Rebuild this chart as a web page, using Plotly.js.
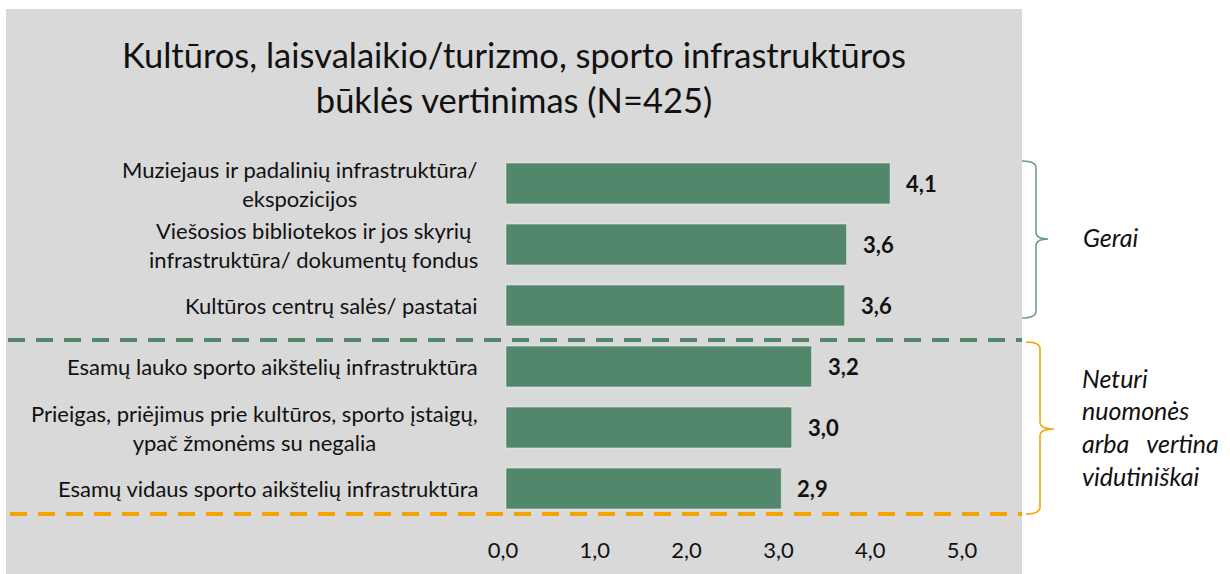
<!DOCTYPE html>
<html>
<head>
<meta charset="utf-8">
<script src="https://cdn.plot.ly/plotly-3.0.1.min.js"></script>
<style>html,body{margin:0;padding:0;background:#fff;}#chart{width:1230px;height:574px;}</style>
</head>
<body>
<div id="chart"></div>
<script>
// ---- data ----
const categories = [
  'Muziejaus ir padalinių infrastruktūra/<br>ekspozicijos',
  'Viešosios bibliotekos ir jos skyrių<br>infrastruktūra/ dokumentų fondus',
  'Kultūros centrų salės/ pastatai',
  'Esamų lauko sporto aikštelių infrastruktūra',
  'Prieigas, priėjimus prie kultūros, sporto įstaigų,<br>ypač žmonėms su negalia',
  'Esamų vidaus sporto aikštelių infrastruktūra'
];
const values = [4.06, 3.60, 3.58, 3.23, 3.02, 2.91];
const tickValues = [0, 1, 2, 3, 4, 5];
const tickLabels = ['0,0', '1,0', '2,0', '3,0', '4,0', '5,0'];
const groupGood = 'Gerai';
const groupMid = ['Neturi', 'nuomonės', 'arba\u00a0\u00a0\u00a0vertina', 'vidutiniškai'];
const titleText = 'Kultūros, laisvalaikio/turizmo, sporto infrastruktūros<br>būklės vertinimas (N=425)';

// ---- geometry helpers (pixel -> paper) ----
const W = 1230, H = 574;
const L = 500, R = 1022, T = 153, B = 519;
const X0 = 506;           // pixel of value 0 for bars
const PXU = 94.6;         // pixels per unit for bars
const X = px => (px - L) / (R - L);
const Y = py => 1 - (py - T) / (B - T);

const GREEN = '#53876B';
const ORANGE = '#F5A300';
const FONT = 'Lato, "Open Sans", sans-serif';

function brace(x0, xb, xp, ytop, ymid, ybot, r) {
  const p = (x, y) => X(x).toFixed(5) + ',' + Y(y).toFixed(5);
  return 'M ' + p(x0, ytop) +
    ' Q ' + p(xb, ytop) + ' ' + p(xb, ytop + r) +
    ' L ' + p(xb, ymid - r) +
    ' Q ' + p(xb, ymid) + ' ' + p(xp, ymid) +
    ' Q ' + p(xb, ymid) + ' ' + p(xb, ymid + r) +
    ' L ' + p(xb, ybot - r) +
    ' Q ' + p(xb, ybot) + ' ' + p(x0, ybot);
}

const fmt = v => v.toFixed(1).replace('.', ',');

const traces = [
  {
    type: 'bar', orientation: 'h',
    x: values, y: categories,
    marker: { color: GREEN, line: { color: 'rgba(255,255,255,0.45)', width: 1 } },
    hoverinfo: 'skip', showlegend: false
  },
  {
    type: 'scatter', mode: 'markers', x: [], y: [], xaxis: 'x2', yaxis: 'y',
    hoverinfo: 'skip', showlegend: false
  }
];

const annotations = [];
categories.forEach((c, i) => {
  annotations.push({
    x: X(480), xref: 'paper', xanchor: 'right',
    y: c, yref: 'y', yanchor: 'middle',
    text: c, align: 'center', showarrow: false,
    font: { family: FONT, size: 22, color: '#111' }
  });
  annotations.push({
    x: values[i], xref: 'x', xanchor: 'left', xshift: 14,
    y: c, yref: 'y', yanchor: 'middle',
    text: '<b>' + fmt(values[i]) + '</b>', showarrow: false,
    font: { family: FONT, size: 22, color: '#111' }
  });
});
annotations.push({
  x: X(1081), xref: 'paper', xanchor: 'left', y: Y(237), yref: 'paper', yanchor: 'middle',
  text: '<i>' + groupGood + '</i>', showarrow: false,
  font: { family: FONT, size: 25, color: '#111' }
});
const midY = [378, 410, 443, 476];
groupMid.forEach((t, i) => {
  annotations.push({
    x: X(1080), xref: 'paper', xanchor: 'left', y: Y(midY[i]), yref: 'paper', yanchor: 'middle',
    text: '<i>' + t + '</i>', showarrow: false,
    font: { family: FONT, size: 25, color: '#111' }
  });
});

const shapes = [
  { type: 'rect', xref: 'paper', yref: 'paper', x0: X(6), x1: X(1022), y0: Y(574), y1: Y(9),
    fillcolor: '#D9D9D9', line: { width: 0 }, layer: 'below' },
  { type: 'line', xref: 'paper', yref: 'paper', x0: X(8), x1: X(1022), y0: Y(340), y1: Y(340),
    line: { color: GREEN, width: 4, dash: '17px,11px' } },
  { type: 'line', xref: 'paper', yref: 'paper', x0: X(10), x1: X(1022), y0: Y(514), y1: Y(514),
    line: { color: ORANGE, width: 4, dash: '17px,11px' } },
  { type: 'path', xref: 'paper', yref: 'paper', path: brace(1022, 1036, 1048, 161, 239, 318, 7),
    line: { color: '#6A9A80', width: 1.5 } },
  { type: 'path', xref: 'paper', yref: 'paper', path: brace(1026, 1040, 1054, 342, 429, 514, 7),
    line: { color: ORANGE, width: 1.5 } }
];

const layout = {
  width: W, height: H,
  margin: { l: L, r: W - R, t: T, b: H - B, pad: 0 },
  paper_bgcolor: '#FFFFFF', plot_bgcolor: 'rgba(0,0,0,0)',
  showlegend: false,
  bargap: 0.33,
  title: {
    text: titleText, x: 514 / W, xref: 'container', xanchor: 'center',
    y: 1 - 68 / H, yref: 'container', yanchor: 'middle',
    font: { family: FONT, size: 34.5, color: '#111' }
  },
  xaxis: {
    range: [(L - X0) / PXU, (R - X0) / PXU], showticklabels: false, showgrid: false, zeroline: false,
    showline: false, ticks: '', fixedrange: true
  },
  xaxis2: {
    overlaying: 'x', anchor: 'y', side: 'bottom',
    range: [(L - 503) / 91.8, (R - 503) / 91.8],
    tickvals: tickValues, ticktext: tickLabels,
    showgrid: false, zeroline: false, showline: false, ticks: '',
    ticklabelstandoff: 16,
    tickfont: { family: FONT, size: 22, color: '#111' }
  },
  yaxis: {
    type: 'category', range: [categories.length - 0.5, -0.5],
    showticklabels: false, showgrid: false, zeroline: false, showline: false, ticks: ''
  },
  annotations: annotations,
  shapes: shapes
};

Plotly.newPlot('chart', traces, layout, { displayModeBar: false, staticPlot: true });
</script>
</body>
</html>
